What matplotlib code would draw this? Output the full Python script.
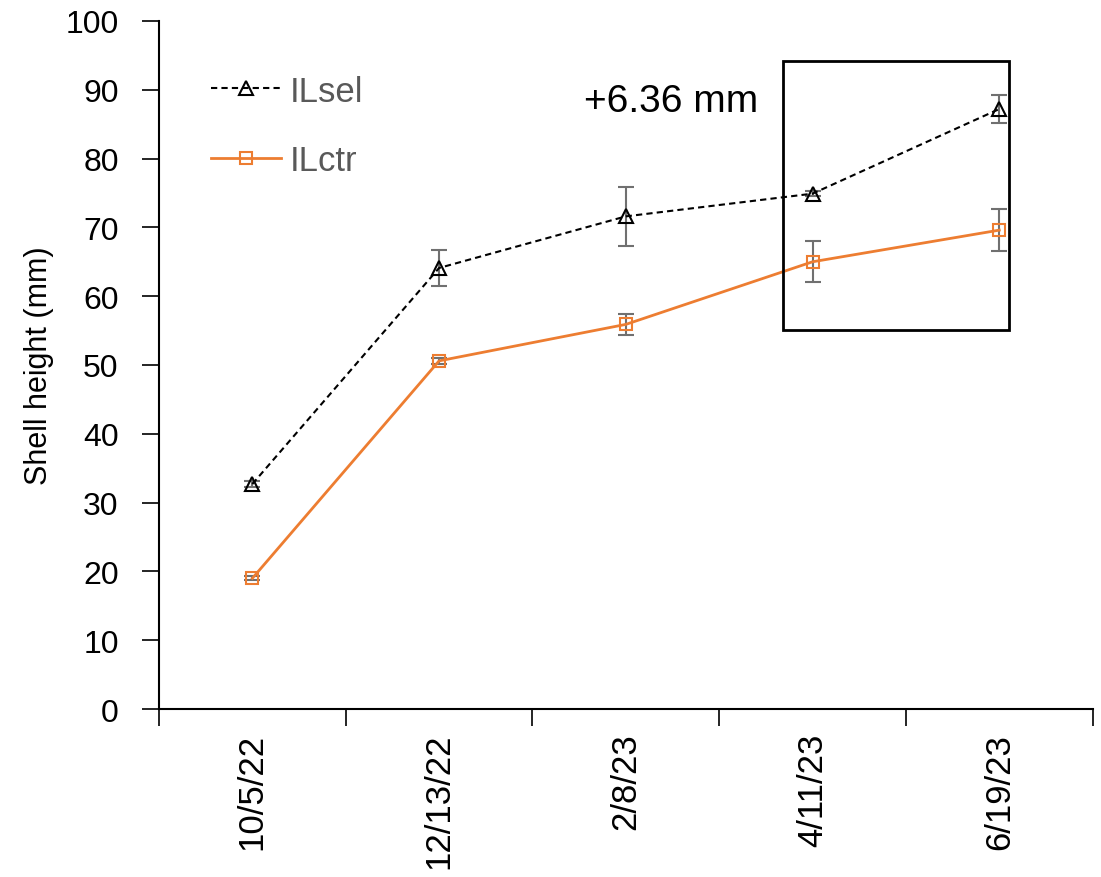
import numpy as np
import matplotlib
matplotlib.use('Agg')
import matplotlib.pyplot as plt
from matplotlib.patches import Rectangle

plt.rcParams['font.family'] = ['Liberation Sans', 'DejaVu Sans']

dates = ['10/5/22', '12/13/22', '2/8/23', '4/11/23', '6/19/23']
ilsel = [32.7, 64.1, 71.6, 74.9, 87.2]
ilsel_err = [0.4, 2.6, 4.3, 0.4, 2.0]
ilctr = [19.0, 50.6, 55.9, 65.0, 69.6]
ilctr_err = [0.3, 0.4, 1.5, 3.0, 3.1]

x = np.arange(len(dates))

fig = plt.figure(figsize=(11.01, 8.78), dpi=100)
ax = fig.add_axes([0.1444, 0.1913, 0.848, 0.7837])

ax.errorbar(x, ilsel, yerr=ilsel_err, fmt='none', ecolor='#707070',
            elinewidth=1.5, capsize=6, capthick=1.5, zorder=2)
ax.errorbar(x, ilctr, yerr=ilctr_err, fmt='none', ecolor='#707070',
            elinewidth=1.5, capsize=6, capthick=1.5, zorder=2)
ax.plot(x, ilsel, color='black', linestyle=(0, (3, 2)), linewidth=1.5,
        marker='^', markersize=10, markerfacecolor='none',
        markeredgecolor='black', markeredgewidth=1.5, label='ILsel', zorder=3)
ax.plot(x, ilctr, color='#ED7D31', linewidth=2,
        marker='s', markersize=9, markerfacecolor='none',
        markeredgecolor='#ED7D31', markeredgewidth=1.5, label='ILctr', zorder=3)

# highlight box around last two dates
ax.add_patch(Rectangle((2.84, 55.1), 1.21, 39.1, fill=False,
                       edgecolor='black', linewidth=2, zorder=4))
ax.text(2.71, 88.3, '+6.36 mm', fontsize=28, ha='right', va='center')

ax.set_xlim(-0.5, 4.5)
ax.set_ylim(0, 100)
ax.set_yticks(range(0, 101, 10))
ax.set_xticks(x)
ax.set_xticklabels(dates, rotation=90, fontsize=25)
ax.set_xticks(np.arange(-0.5, 5, 1), minor=True)
ax.tick_params(axis='x', which='major', length=0, pad=17)
ax.tick_params(axis='x', which='minor', length=12, width=1.2, direction='out')
ax.tick_params(axis='y', labelsize=23, length=12, width=1.2, direction='out',
               pad=17)
ax.set_ylabel('Shell height (mm)', fontsize=22, labelpad=8)

for s in ['top', 'right']:
    ax.spines[s].set_visible(False)
for s in ['left', 'bottom']:
    ax.spines[s].set_linewidth(1.5)

leg = ax.legend(loc='upper left', bbox_to_anchor=(0.056, 0.922), frameon=False,
                fontsize=25, handlelength=2.0, labelspacing=1.05,
                handletextpad=0.25, borderpad=0, borderaxespad=0)
for t in leg.get_texts():
    t.set_color('#595959')

fig.savefig('out.png', dpi=100)
